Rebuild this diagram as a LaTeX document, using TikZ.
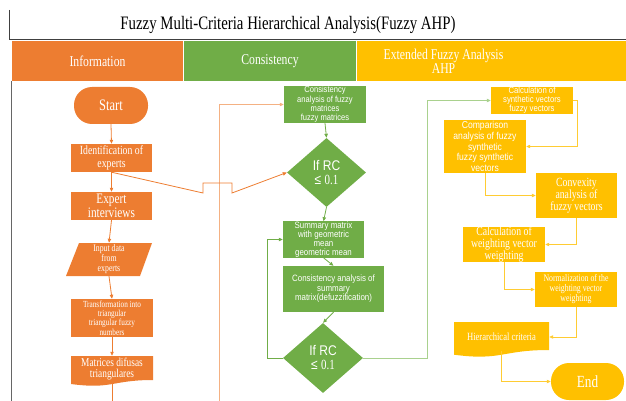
\documentclass[tikz,border=0pt]{standalone}
\usepackage{fontspec}
\setmainfont{Liberation Serif}[FakeStretch=0.78]
\setsansfont{Liberation Sans}[FakeStretch=0.86]
\usetikzlibrary{arrows.meta,shapes.geometric}
\definecolor{orng}{HTML}{ED7D31}
\definecolor{grn}{HTML}{70AD47}
\definecolor{ylw}{HTML}{FFC000}
\definecolor{lorng}{HTML}{F4B183}
\definecolor{lgrn}{HTML}{A9D18E}
\definecolor{lylw}{HTML}{FFCC33}
\newcommand\fsz[2]{\fontsize{#1}{#2}\selectfont}
\begin{document}
\begin{tikzpicture}[x=1pt,y=-1pt,
  box/.style={inner sep=0pt,align=center,text=white},
  obox/.style={box,fill=orng},
  gbox/.style={box,fill=grn},
  ybox/.style={box,fill=ylw},
  tip/.style={-{Triangle[length=4pt,width=3.4pt]}},
  oarr/.style={draw=orng,line width=0.8pt,tip},
  garr/.style={draw=grn,line width=0.8pt,tip},
  yarr/.style={draw=lylw,line width=0.8pt,tip},
  hdr/.style={inner sep=0pt,align=center,text=white,font=\rmfamily\fsz{15}{14}},
]
\useasboundingbox (0,0) rectangle (626,401);
% title and frame
\node[inner sep=0pt,font=\rmfamily\fsz{19}{19}] (title) at (288,25) {Fuzzy Multi-Criteria Hierarchical Analysis(Fuzzy AHP)};
\draw[black!75,line width=0.9pt] (9,10) -- (9,39) -- (626,39);
\draw[black!60,line width=1pt] (11,81) -- (11,401);
% headers
\node[hdr,fill=orng,minimum width=171,minimum height=40] (h1) at (97.5,61) {Information};
\node[hdr,fill=grn,minimum width=172,minimum height=40] (h2) at (270,61) {Consistency};
\node[hdr,fill=ylw,minimum width=269,minimum height=40] (h3) at (491.5,61) {};
\node[hdr] (h3t) at (443.5,61) {Extended Fuzzy Analysis\\AHP};
% column 1
\node[obox,rounded corners=18pt,minimum width=74,minimum height=37,font=\rmfamily\fsz{16}{16}] (start) at (111,105.5) {Start};
\node[obox,minimum width=81,minimum height=28,font=\rmfamily\fsz{12.5}{13}] (ident) at (111.5,158) {Identification of\\experts};
\node[obox,minimum width=81,minimum height=28,font=\rmfamily\fsz{14.5}{14}] (exp) at (111.5,206) {Expert\\interviews};
\fill[orng] (79,243) -- (152,243) -- (140,276) -- (66,276) -- cycle;
\node[box,minimum width=60,minimum height=33,font=\rmfamily\fsz{10}{10}] (inp) at (109,259.5) {Input data\\from\\experts};
\node[obox,minimum width=82,minimum height=38,font=\rmfamily\fsz{9.3}{9.4}] (trans) at (112,318) {Transformation into\\triangular\\triangular fuzzy\\numbers};
\fill[orng] (71,356) -- (153,356) -- (153,380) .. controls (112,380) and (112,389.5) .. (71,384) -- cycle;
\node[box,minimum width=82,minimum height=26,font=\rmfamily\fsz{12}{11.5}] (mat) at (112,369) {Matrices difusas\\triangulares};
\coordinate (matend) at (112,401);
\coordinate (obot) at (219,401);
% column 2
\node[gbox,minimum width=82,minimum height=37,font=\sffamily\fsz{8.8}{9.2}] (cafm) at (325,104.5) {Consistency\\analysis of fuzzy\\matrices\\fuzzy matrices};
\node[gbox,diamond,aspect=1.145,minimum width=79,minimum height=69,font=\sffamily\fsz{14}{14}] (d1) at (326.5,172.5) {If RC\\≤ {\rmfamily 0.1}};
\node[gbox,minimum width=81,minimum height=35,font=\sffamily\fsz{9.2}{9.2}] (summ) at (323.5,239.5) {Summary matrix\\with geometric\\mean\\geometric mean};
\node[gbox,minimum width=101,minimum height=46,font=\sffamily\fsz{9.2}{9.6}] (cas) at (333.5,289) {Consistency analysis of\\summary\\matrix(defuzzification)};
\node[gbox,diamond,aspect=1.143,minimum width=80,minimum height=70,font=\sffamily\fsz{14}{14}] (d2) at (323,358) {If RC\\≤ {\rmfamily 0.1}};
% column 3
\node[ybox,minimum width=82,minimum height=27,font=\sffamily\fsz{9}{9}] (csv) at (532,100.5) {Calculation of\\synthetic vectors\\fuzzy vectors};
\node[ybox,minimum width=82,minimum height=53,font=\sffamily\fsz{10}{10.7}] (cmp) at (485,146.5) {Comparison\\analysis of fuzzy\\synthetic\\fuzzy synthetic\\vectors};
\node[ybox,minimum width=81,minimum height=45,font=\rmfamily\fsz{12.5}{12.2}] (cvx) at (576.5,195.5) {Convexity\\analysis of\\fuzzy vectors};
\node[ybox,minimum width=82,minimum height=35,font=\rmfamily\fsz{12.5}{12}] (cwv) at (504,244.5) {Calculation of\\weighting vector\\weighting};
\node[ybox,minimum width=82,minimum height=35,font=\rmfamily\fsz{10}{10}] (nrm) at (576,289.5) {Normalization of the\\weighting vector\\weighting};
\fill[ylw] (454,322) -- (549,322) -- (549,350) .. controls (501.5,350) and (501.5,361) .. (454,354.7) -- cycle;
\node[box,minimum width=95,minimum height=28,font=\rmfamily\fsz{11}{11}] (hc) at (501.5,337) {Hierarchical criteria};
\node[ybox,rounded corners=18pt,minimum width=73,minimum height=37,font=\rmfamily\fsz{17}{17}] (fin) at (587.5,381.5) {End};
% orange connectors
\draw[oarr] (start.south) -- (ident.north);
\draw[oarr] (ident.south) -- (exp.north);
\draw[oarr] (exp.south) -- (inp.north);
\draw[oarr] (inp.south) -- (trans.north);
\draw[oarr] (trans.south) -- (mat.north);
\draw[draw=orng,line width=0.8pt] (mat.south) -- (matend);
\draw[draw=lorng,line width=0.8pt,tip] (obot) |- (cafm.west);
\draw[oarr] (ident.south) -- (203,193) -- (203,183) -- (232,183) -- (232,193) -- (d1.west);
% green connectors
\draw[garr] (cafm.south) -- (d1.north);
\draw[garr] (d1.south) -- (summ.north);
\draw[garr] (summ.south) -- (cas.north);
\draw[garr] (cas.south) -- (d2.north);
\draw[garr] (d2.west) -- ++(-15,0) |- (summ.west);
\draw[draw=lgrn,line width=0.8pt,tip] (d2.east) -- (427,358) |- (csv.west);
% yellow connectors
\draw[yarr] (csv.east) -- (577,100.5) |- (cmp.east);
\draw[yarr] (cmp.south) |- (cvx.west);
\draw[yarr] (cvx.south) |- (cwv.east);
\draw[yarr] (cwv.south) |- (nrm.west);
\draw[yarr] (nrm.south) |- (hc.east);
\draw[yarr] (hc.south) |- (fin.west);
\end{tikzpicture}
\end{document}
